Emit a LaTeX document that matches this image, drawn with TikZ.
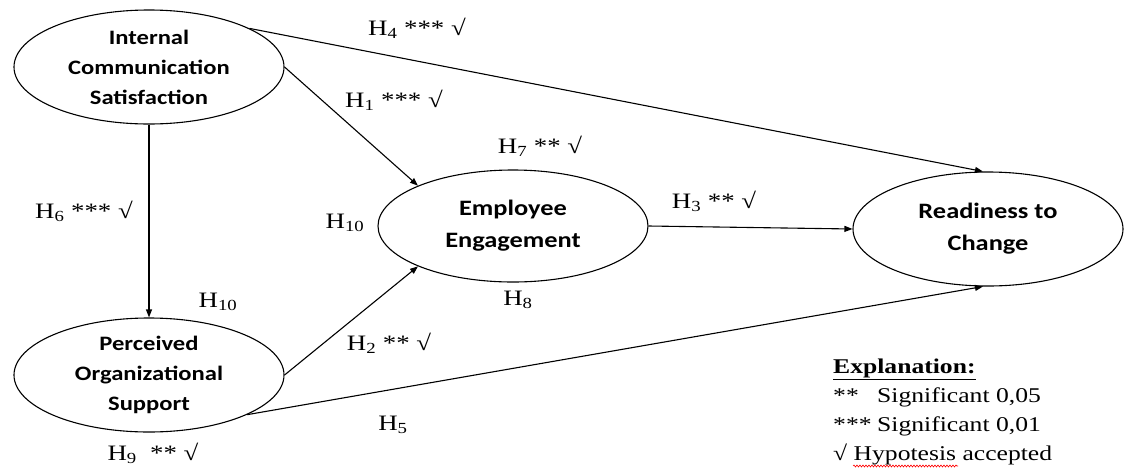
\documentclass[tikz,border=0pt]{standalone}
\usepackage{fontspec}
\setmainfont{Liberation Serif}[FakeStretch=1.22]
\newfontfamily\calfont{Carlito}[FakeStretch=1.2]
\usetikzlibrary{shapes.geometric,arrows.meta,decorations.pathmorphing}
\tikzset{
  var/.style={ellipse, draw, line width=1.1pt, minimum width=270pt, minimum height=114pt, inner sep=0pt},
  vtext/.style={align=center, inner sep=0pt, font=\calfont\bfseries\fontsize{20.5}{30}\selectfont},
  vtextb/.style={align=center, inner sep=0pt, font=\calfont\bfseries\fontsize{22}{32}\selectfont},
  hyp/.style={anchor=base, inner sep=0pt, font=\fontsize{22}{26}\selectfont},
  leg/.style={anchor=base west, inner sep=0pt, font=\fontsize{21}{25}\selectfont},
  arr/.style={-{Triangle[length=8pt,width=6pt]}, line width=1.1pt}
}
\begin{document}
\begin{tikzpicture}[x=1pt,y=-1pt]
\useasboundingbox (0,0) rectangle (1125,472);
% variables
\node[var] (ics) at (149,67) {};
\node[vtext] (icst) at (ics) {Internal\\Communication\\Satisfaction};
\node[var] (pos) at (149,375) {};
\node[vtext] (post) at (pos) {Perceived\\Organizational\\Support};
\node[var, minimum height=112pt] (ee) at (513,226) {};
\node[vtextb] (eet) at (ee) {Employee\\Engagement};
\node[var] (rtc) at (988,229) {};
\node[vtextb] (rtct) at (rtc) {Readiness to\\Change};
% connectors
\draw[arr] (ics.south) -- (pos.north);
\draw[arr] (ics.east) -- (ee.157);
\draw[arr] (ics.21) -- (rtc.95);
\draw[arr] (ee.east) -- (rtc.west);
\draw[arr] (pos.east) -- (ee.203);
\draw[arr] (pos.-22) -- (rtc.265);
% hypothesis labels
\node[hyp] (h4) at (417,35) {H\textsubscript{4} *** √};
\node[hyp] (h1) at (394,107) {H\textsubscript{1} *** √};
\node[hyp] (h7) at (540,153) {H\textsubscript{7} ** √};
\node[hyp] (h10a) at (345,228) {H\textsubscript{10}};
\node[hyp] (h8) at (518,305) {H\textsubscript{8}};
\node[hyp] (h3) at (714,208) {H\textsubscript{3} ** √};
\node[hyp] (h6) at (84,218) {H\textsubscript{6} *** √};
\node[hyp] (h10b) at (218,307) {H\textsubscript{10}};
\node[hyp] (h2) at (389,350) {H\textsubscript{2} ** √};
\node[hyp] (h5) at (393,430) {H\textsubscript{5}};
\node[hyp] (h9) at (153,460) {H\textsubscript{9} \ ** √};
% legend
\node[leg] (ex) at (833,373) {\underline{\textbf{Explanation:}}};
\node[leg] (l1) at (833,402) {\makebox[44pt][l]{**}Significant 0,05};
\node[leg] (l2) at (833,431) {\makebox[44pt][l]{***}Significant 0,01};
\node[leg] (l3) at (833,460) {√ Hypotesis accepted};
\draw[red, line width=0.6pt, decorate, decoration={snake, amplitude=1pt, segment length=3pt}] (853,466) -- (958,466);
\end{tikzpicture}
\end{document}
